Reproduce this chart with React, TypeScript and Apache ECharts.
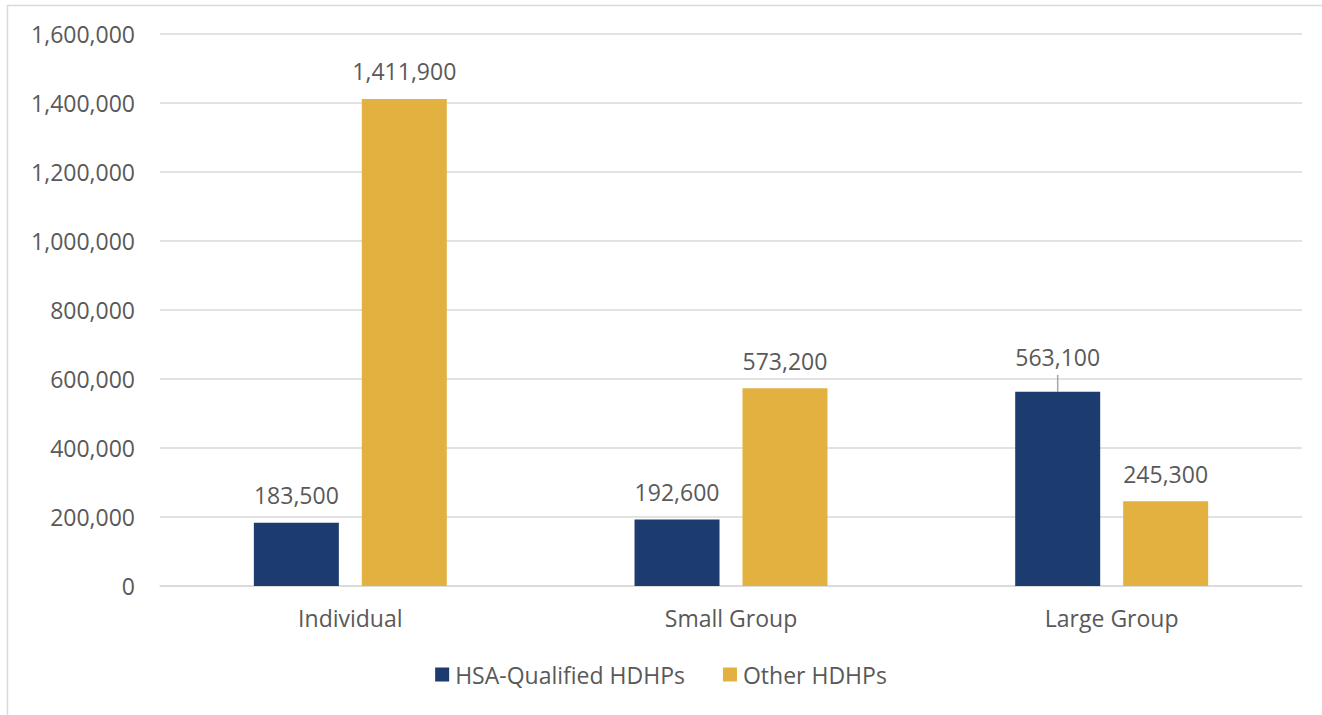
import React, { useEffect, useRef } from "react";
import * as echarts from "echarts";

const categories = ["Individual", "Small Group", "Large Group"];
const hsaQualified = [183500, 192600, 563100];
const otherHdhps = [1411900, 573200, 245300];
const seriesNames = ["HSA-Qualified HDHPs", "Other HDHPs"];

const FONT = "'Open Sans', Lato, sans-serif";
const TXT = "#595959";
const FS = 23;

export default function App() {
  const ref = useRef<HTMLDivElement>(null);
  useEffect(() => {
    if (!ref.current) return;
    const chart = echarts.init(ref.current, null, { renderer: "svg" });
    const fmt = (v: number) => v.toLocaleString("en-US");
    const label = {
      show: true,
      position: "top",
      distance: 16,
      color: TXT,
      fontSize: FS,
      fontFamily: FONT,
      formatter: (p: any) => fmt(p.value),
    };
    chart.setOption({
      animation: false,
      textStyle: { fontFamily: FONT },
      graphic: [
        {
          type: "rect",
          shape: { x: 7.5, y: 5.5, width: 1340, height: 740 },
          style: { fill: "none", stroke: "#d9d9d9", lineWidth: 1.5 },
          silent: true,
        },
      ],
      grid: { left: 160, right: 20, top: 34, bottom: 129 },
      legend: {
        bottom: 24,
        left: "center",
        itemWidth: 14,
        itemHeight: 14,
        itemGap: 38,
        icon: "rect",
        textStyle: { color: TXT, fontSize: FS, fontFamily: FONT, padding: [0, 0, 0, 1] },
        data: seriesNames,
      },
      xAxis: {
        type: "category",
        data: categories,
        axisTick: { show: false },
        axisLine: { lineStyle: { color: "#d9d9d9", width: 1.5 } },
        axisLabel: { color: TXT, fontSize: FS, fontFamily: FONT, margin: 20 },
      },
      yAxis: {
        type: "value",
        min: 0,
        max: 1600000,
        interval: 200000,
        axisLabel: { color: TXT, fontSize: FS, fontFamily: FONT, margin: 25, formatter: (v: number) => fmt(v) },
        splitLine: { lineStyle: { color: "#d9d9d9", width: 1.5 } },
        axisLine: { show: false },
        axisTick: { show: false },
      },
      series: [
        {
          name: seriesNames[0],
          type: "bar",
          data: hsaQualified.map((v, i) =>
            i === 2
              ? {
                  value: v,
                  labelLine: { show: true },
                  label: { padding: [0, 0, 6, 0], backgroundColor: "rgba(255,255,255,0.001)" },
                }
              : { value: v, labelLine: { show: false } }
          ),
          barWidth: 85,
          barGap: "27%",
          itemStyle: { color: "#1c3b6e" },
          label,
          labelLayout: (p: any) => (p.dataIndex === 2 ? { dy: -1 } : {}),
          labelLine: { show: false, lineStyle: { color: "#a6a6a6", width: 1.5 } },
        },
        {
          name: seriesNames[1],
          type: "bar",
          data: otherHdhps,
          barWidth: 85,
          barGap: "27%",
          itemStyle: { color: "#e3b140" },
          label,
        },
      ],
    });
    return () => chart.dispose();
  }, []);
  return (
    <div
      ref={ref}
      style={{ position: "fixed", left: 0, top: 0, width: 1322, height: 715, background: "#fff" }}
    />
  );
}
